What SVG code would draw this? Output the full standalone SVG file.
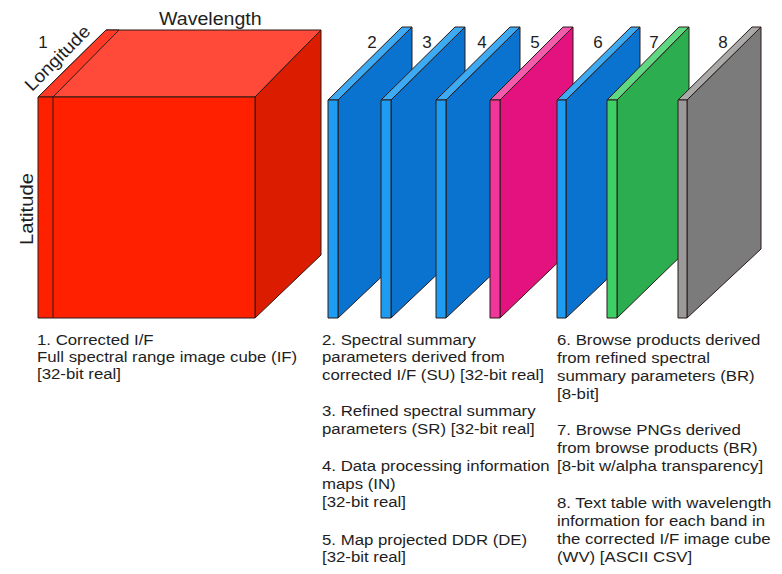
<svg xmlns="http://www.w3.org/2000/svg" width="782" height="574" viewBox="0 0 782 574">
<style>
  .t { font-family: "Liberation Sans", Arial, sans-serif; fill: #1e1e1e; }
  .body { font-size: 15px; }
  .num { font-size: 17px; }
  .edge { stroke: #2a1a18; stroke-width: 1; stroke-linejoin: round; }
  .bl-side { fill: #0A72CF; } .bl-front { fill: #1E9CF2; } .bl-top { fill: #3DAAF4; }
  .pk-side { fill: #E3127F; } .pk-front { fill: #F0369B; } .pk-top { fill: #F25AAB; }
  .gr-side { fill: #2CAE50; } .gr-front { fill: #3ECF66; } .gr-top { fill: #60D781; }
  .gy-side { fill: #7B7B7B; } .gy-front { fill: #9A9A9A; } .gy-top { fill: #A9A9A9; }
</style>
<rect width="782" height="574" fill="#ffffff"/>

<!-- Node 1: cube -->
<g id="cube1">
  <polygon class="edge" fill="#FF4A3A" points="38,97 106,30 321,30 255,97"/>
  <polygon class="edge" fill="#FF3A26" points="38,97 106,30 119,30 53,97"/>
  <polygon class="edge" fill="#DC1C00" points="255,97 321,30 321,255 255,318"/>
  <rect class="edge" fill="#FF2000" x="38" y="97" width="217" height="221"/>
  <line class="edge" x1="53" y1="97" x2="53" y2="318"/>
</g>

<!-- Panels -->
<g id="panel2">
  <polygon class="edge bl-side" points="338,100 412,27 412,248 338,318"/>
  <polygon class="edge bl-top" points="328,100 338,100 412,27 402,27"/>
  <rect class="edge bl-front" x="328" y="100" width="10" height="218"/>
</g>
<g id="panel3">
  <polygon class="edge bl-side" points="391,100 465,27 465,248 391,318"/>
  <polygon class="edge bl-top" points="381,100 391,100 465,27 455,27"/>
  <rect class="edge bl-front" x="381" y="100" width="10" height="218"/>
</g>
<g id="panel4">
  <polygon class="edge bl-side" points="446,100 520,27 520,248 446,318"/>
  <polygon class="edge bl-top" points="436,100 446,100 520,27 510,27"/>
  <rect class="edge bl-front" x="436" y="100" width="10" height="218"/>
</g>
<g id="panel5">
  <polygon class="edge pk-side" points="500,100 573,27 573,248 500,318"/>
  <polygon class="edge pk-top" points="490,100 500,100 573,27 563,27"/>
  <rect class="edge pk-front" x="490" y="100" width="10" height="218"/>
</g>
<g id="panel6">
  <polygon class="edge bl-side" points="566,100 640,27 640,248 566,318"/>
  <polygon class="edge bl-top" points="557,100 566,100 640,27 631,27"/>
  <rect class="edge bl-front" x="557" y="100" width="9" height="218"/>
</g>
<g id="panel7">
  <polygon class="edge gr-side" points="617,100 689,27 689,248 617,318"/>
  <polygon class="edge gr-top" points="607,100 617,100 689,27 679,27"/>
  <rect class="edge gr-front" x="607" y="100" width="10" height="218"/>
</g>
<g id="panel8">
  <polygon class="edge gy-side" points="687,100 761,27 761,249 687,318"/>
  <polygon class="edge gy-top" points="678,100 687,100 761,27 752,27"/>
  <rect class="edge gy-front" x="678" y="100" width="9" height="218"/>
</g>

<!-- Axis and number labels -->
<g id="axis-labels">
  <text class="t" font-size="17.5" transform="translate(159 25) scale(1.12 1)">Wavelength</text>
  <text class="t" font-size="18" transform="translate(32 92) rotate(-45)" textLength="84" lengthAdjust="spacingAndGlyphs">Longitude</text>
  <text class="t" font-size="18" transform="translate(33 245) rotate(-90)" textLength="72" lengthAdjust="spacingAndGlyphs">Latitude</text>
</g>
<g id="numbers" class="t num" text-anchor="middle">
  <text x="43" y="48">1</text>
  <text x="372" y="48">2</text>
  <text x="427" y="48">3</text>
  <text x="482" y="48">4</text>
  <text x="535" y="48">5</text>
  <text x="598" y="48">6</text>
  <text x="654" y="48">7</text>
  <text x="723" y="48">8</text>
</g>

<!-- Descriptions -->
<g id="desc1" class="t body" transform="translate(37 0) scale(1.12 1)">
  <text x="0" y="345">1. Corrected I/F</text>
  <text x="0" y="362">Full spectral range image cube (IF)</text>
  <text x="0" y="379">[32-bit real]</text>
</g>
<g id="desc2-5" class="t body" transform="translate(322 0) scale(1.12 1)">
  <text x="0" y="345">2. Spectral summary</text>
  <text x="0" y="362">parameters derived from</text>
  <text x="0" y="380">corrected I/F (SU) [32-bit real]</text>
  <text x="0" y="416">3. Refined spectral summary</text>
  <text x="0" y="434">parameters (SR) [32-bit real]</text>
  <text x="0" y="471">4. Data processing information</text>
  <text x="0" y="489">maps (IN)</text>
  <text x="0" y="507">[32-bit real]</text>
  <text x="0" y="545">5. Map projected DDR (DE)</text>
  <text x="0" y="562">[32-bit real]</text>
</g>
<g id="desc6-8" class="t body" transform="translate(557 0) scale(1.12 1)">
  <text x="0" y="345">6. Browse products derived</text>
  <text x="0" y="363">from refined spectral</text>
  <text x="0" y="381">summary parameters (BR)</text>
  <text x="0" y="399">[8-bit]</text>
  <text x="0" y="435">7. Browse PNGs derived</text>
  <text x="0" y="453">from browse products (BR)</text>
  <text x="0" y="471">[8-bit w/alpha transparency]</text>
  <text x="0" y="508">8. Text table with wavelength</text>
  <text x="0" y="526">information for each band in</text>
  <text x="0" y="544">the corrected I/F image cube</text>
  <text x="0" y="562">(WV) [ASCII CSV]</text>
</g>
</svg>
